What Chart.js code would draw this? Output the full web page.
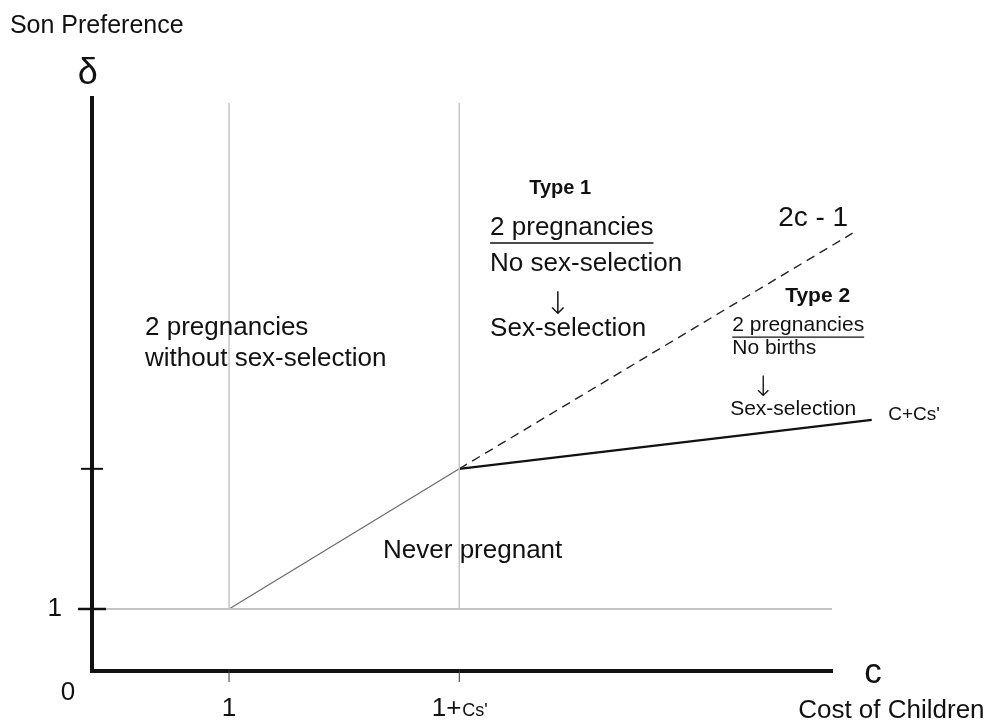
<!DOCTYPE html>
<html>
<head>
<meta charset="utf-8">
<script src="https://cdn.jsdelivr.net/npm/chart.js@4.4.1/dist/chart.umd.min.js"></script>
<style>
  html, body { margin: 0; padding: 0; background: #ffffff; }
  #wrap { width: 997px; height: 725px; }
</style>
</head>
<body>
<div id="wrap"><canvas id="c" width="997" height="725"></canvas></div>
<script>
// ---------------- data (arbitrary units) ----------------
// c axis: 0 .. 5.4 ; delta axis: 0 .. 9.24
const xMin = 0, xMax = 5.4;
const yMin = 0, yMax = 9.24;

const xTickValues = [1, 2.68];          // 1 and 1+cs'
const xTickMain   = ['1', '1+'];
const xTickSmall  = ['', "Cs'"];
const yTickValues = [1, 3.26];
const yTickLabels = ['1', ''];

const guideC      = [1, 2.68];          // vertical guides at c = 1 and c = 1+cs'
const guideBottom = 1;
const guideTop    = 9.16;
const baselineC   = [0, 5.4];           // delta = 1 line
const baselineD   = [1, 1];

const boundaryC   = [1, 2.68];          // lower solid boundary
const boundaryD   = [1, 3.26];
const line2cC     = [2.68, 5.55];       // 2c - 1 (dashed)
const line2cD     = [3.26, 7.06];
const lineCcsC    = [2.68, 5.69];       // C + Cs' (solid)
const lineCcsD    = [3.26, 4.05];

const pts = (xs, ys) => xs.map((x, i) => ({ x: x, y: ys[i] }));

// ---------------- text annotations (data coordinates) ----------------
const FONT = '"Liberation Sans", Arial, Helvetica, sans-serif';
const ARROWFONT = '"DejaVu Sans", sans-serif';
const annotations = [
  { text: 'Son Preference', x: -0.599, y: 10.29, size: 25 },
  { text: 'δ', x: -0.03, y: 9.47, size: 36, align: 'center' },
  { text: '2 pregnancies', x: 0.387, y: 5.42, size: 26 },
  { text: 'without sex-selection', x: 0.387, y: 4.92, size: 26 },
  { text: 'Type 1', x: 3.19, y: 7.69, size: 20, bold: true },
  { text: '2 pregnancies', x: 2.905, y: 7.03, size: 26, underline: true },
  { text: 'No sex-selection', x: 2.905, y: 6.45, size: 26 },
  { text: '↓', x: 3.40, y: 5.76, size: 31, align: 'center', family: ARROWFONT, weight: '200' },
  { text: 'Sex-selection', x: 2.905, y: 5.40, size: 26 },
  { text: '2c - 1', x: 5.007, y: 7.18, size: 28 },
  { text: 'Type 2', x: 5.058, y: 5.95, size: 21, bold: true },
  { text: '2 pregnancies', x: 4.672, y: 5.48, size: 21, underline: true },
  { text: 'No births', x: 4.672, y: 5.11, size: 21 },
  { text: '↓', x: 4.898, y: 4.435, size: 28, align: 'center', family: ARROWFONT, weight: '200' },
  { text: 'Sex-selection', x: 4.657, y: 4.13, size: 21 },
  { text: "C+Cs'", x: 5.81, y: 4.05, size: 19 },
  { text: 'Never pregnant', x: 2.124, y: 1.823, size: 26 },
  { text: '0', x: -0.175, y: -0.468, size: 26, align: 'center' },
  { text: 'c', x: 5.70, y: -0.194, size: 35, align: 'center' },
  { text: 'Cost of Children', x: 5.153, y: -0.758, size: 26 }
];

const textPlugin = {
  id: 'diagramText',
  afterDraw(chart) {
    const ctx = chart.ctx;
    const xs = chart.scales.x, ys = chart.scales.y;
    ctx.save();
    ctx.fillStyle = '#111';
    ctx.strokeStyle = '#111';
    ctx.textBaseline = 'alphabetic';
    // tick marks crossing the axes
    yTickValues.forEach((v, i) => {
      const py = ys.getPixelForValue(v);
      const half = i === 0 ? 14 : 11;
      ctx.lineWidth = i === 0 ? 2.5 : 2;
      ctx.beginPath();
      ctx.moveTo(xs.left - half, py);
      ctx.lineTo(xs.left + half, py);
      ctx.stroke();
    });
    xTickValues.forEach((v, i) => {
      const px = xs.getPixelForValue(v);
      ctx.lineWidth = 1;
      ctx.strokeStyle = '#333';
      ctx.beginPath();
      ctx.moveTo(px, ys.bottom - 2);
      ctx.lineTo(px, ys.bottom + 11);
      ctx.stroke();
      // tick labels (mixed sizes)
      ctx.font = '26px ' + FONT;
      const w1 = ctx.measureText(xTickMain[i]).width;
      ctx.font = '18px ' + FONT;
      const w2 = ctx.measureText(xTickSmall[i]).width;
      const left = px - (w1 + w2) / 2;
      const base = ys.bottom + 45;
      ctx.font = '26px ' + FONT;
      ctx.textAlign = 'left';
      ctx.fillText(xTickMain[i], left, base);
      if (xTickSmall[i]) {
        ctx.font = '18px ' + FONT;
        ctx.fillText(xTickSmall[i], left + w1 + 1, base);
      }
    });
    ctx.strokeStyle = '#111';
    annotations.forEach(a => {
      const px = xs.getPixelForValue(a.x);
      const py = ys.getPixelForValue(a.y);
      const weight = a.bold ? 'bold ' : (a.weight ? a.weight + ' ' : '');
      ctx.font = weight + a.size + 'px ' + (a.family || FONT);
      ctx.textAlign = a.align || 'left';
      ctx.fillText(a.text, px, py);
      if (a.underline) {
        const w = ctx.measureText(a.text).width;
        const uy = py + Math.round(a.size * 0.3);
        ctx.lineWidth = 1.4;
        ctx.beginPath();
        ctx.moveTo(px, uy);
        ctx.lineTo(px + w, uy);
        ctx.stroke();
      }
    });
    ctx.restore();
  }
};

const guideDatasets = guideC.map(c => ({
  data: pts([c, c], [guideBottom, guideTop]),
  borderColor: '#c4c4c4', borderWidth: 1.5
}));

new Chart(document.getElementById('c'), {
  type: 'scatter',
  data: {
    datasets: [
      ...guideDatasets,
      { data: pts(baselineC, baselineD), borderColor: '#c4c4c4', borderWidth: 1.8 },
      { data: pts(boundaryC, boundaryD), borderColor: '#6a6a6a', borderWidth: 1.2 },
      { data: pts(line2cC, line2cD), borderColor: '#222', borderWidth: 1.4, borderDash: [9, 6] },
      { data: pts(lineCcsC, lineCcsD), borderColor: '#111', borderWidth: 2.2 }
    ].map(d => Object.assign({ showLine: true, pointRadius: 0, pointHoverRadius: 0, clip: false, fill: false, tension: 0 }, d))
  },
  options: {
    responsive: false,
    animation: false,
    events: [],
    layout: { padding: { left: 10, right: 165, top: 98, bottom: 0 } },
    plugins: { legend: { display: false }, tooltip: { enabled: false } },
    scales: {
      x: {
        type: 'linear', min: xMin, max: xMax,
        afterBuildTicks: s => { s.ticks = xTickValues.map(v => ({ value: v })); },
        afterFit: s => { s.height = 54; },
        ticks: { display: false },
        grid: { display: false, drawTicks: false },
        border: { display: true, color: '#111', width: 4 }
      },
      y: {
        type: 'linear', min: yMin, max: yMax,
        afterBuildTicks: s => { s.ticks = yTickValues.map(v => ({ value: v })); },
        afterFit: s => { s.width = 82; },
        ticks: {
          color: '#111', padding: 30,
          font: { family: FONT, size: 26 },
          callback: (v, i) => yTickLabels[i]
        },
        grid: { display: false, drawTicks: false },
        border: { display: true, color: '#111', width: 4 }
      }
    }
  },
  plugins: [textPlugin]
});
</script>
</body>
</html>
